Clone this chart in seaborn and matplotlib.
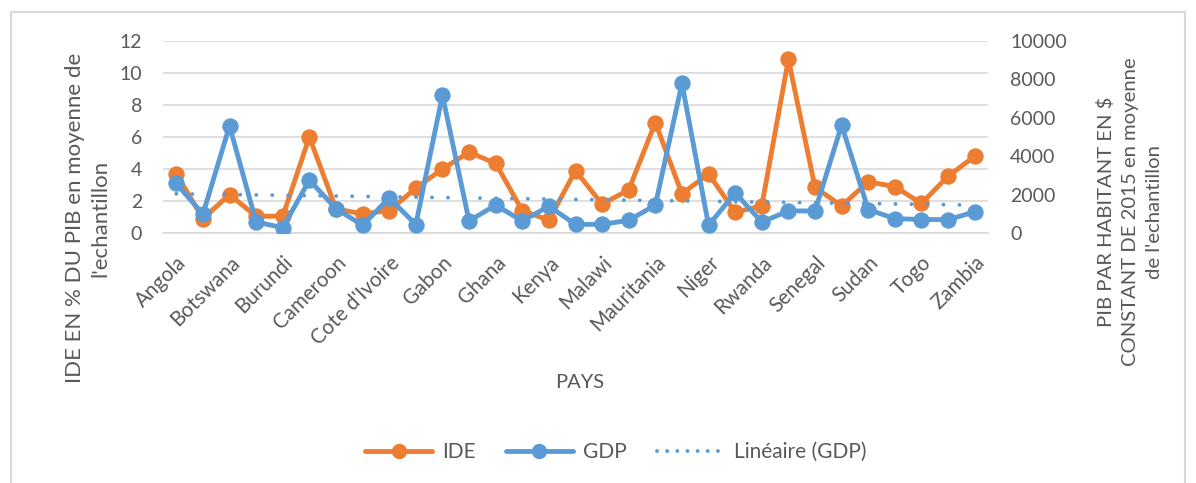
import numpy as np
import pandas as pd
import matplotlib
matplotlib.use("Agg")
import matplotlib.pyplot as plt
import seaborn as sns
from matplotlib.lines import Line2D
from matplotlib.patches import Rectangle

# Données
pays = ["Angola", "Benin", "Botswana", "Burkina Faso", "Burundi", "Cabo Verde",
        "Cameroon", "Congo", "Cote d'Ivoire", "Ethiopia", "Gabon", "Gambia",
        "Ghana", "Guinea", "Kenya", "Madagascar", "Malawi", "Mali", "Mauritania",
        "Mozambique", "Niger", "Nigeria", "Rwanda", "Sao Tome", "Senegal",
        "Sierra Leone", "Sudan", "Tanzania", "Togo", "Uganda", "Zambia"]

ide = [3.7, 0.9, 2.4, 1.05, 1.05, 6.0, 1.5, 1.2, 1.4, 2.8,
       4.0, 5.05, 4.35, 1.4, 0.8, 3.9, 1.8, 2.7, 6.9, 2.45,
       3.7, 1.3, 1.7, 10.85, 2.85, 1.7, 3.2, 2.9, 1.85, 3.55, 4.8]

gdp = [2580, 980, 5580, 570, 280, 2750, 1270, 400, 1830, 440,
       7180, 630, 1450, 630, 1390, 450, 450, 660, 1450, 7790,
       400, 2090, 570, 1150, 1150, 5620, 1220, 750, 700, 700, 1100]

orange = "#ED7D31"
bleu = "#5B9BD5"
gris = "#595959"
pointille = (0, (0.01, 4.1))

df = pd.DataFrame({"pays": pays, "x": np.arange(len(pays)), "IDE": ide, "GDP": gdp})

# Tendance linéaire du PIB (comme la courbe de tendance Excel)
coef = np.polyfit(df["x"], df["GDP"], 1)
df["trend"] = np.polyval(coef, df["x"])

sns.set_theme(style="white")
plt.rcParams["font.family"] = ["Lato", "DejaVu Sans"]

fig = plt.figure(figsize=(11.96, 4.83), dpi=100)
ax = fig.add_axes([163 / 1196, 1 - 233 / 483, 825 / 1196, 192 / 483])
ax2 = ax.twinx()

# Grille horizontale
ax.set_ylim(0, 12)
ax.set_yticks(range(0, 13, 2))
ax.grid(axis="y", color="#D9D9D9", linewidth=1.2)
ax.set_axisbelow(True)

sns.lineplot(data=df, x="x", y="IDE", ax=ax, color=orange, linewidth=3.5,
             marker="o", markersize=11, markeredgecolor=orange, zorder=3)

ax2.set_ylim(0, 10000)
ax2.set_yticks(range(0, 10001, 2000))
sns.lineplot(data=df, x="x", y="trend", ax=ax2, color=bleu, linewidth=2.8,
             linestyle=pointille, dash_capstyle="round", zorder=2)
sns.lineplot(data=df, x="x", y="GDP", ax=ax2, color=bleu, linewidth=3.5,
             marker="o", markersize=11, markeredgecolor=bleu, zorder=3)

ax.set_xlim(-0.5, len(pays) - 0.5)
ax.set_xticks(df["x"][::2])
ax.set_xticklabels(df["pays"][::2], rotation=45, ha="right", va="top",
                   rotation_mode="anchor", color=gris)

for a in (ax, ax2):
    for s in a.spines.values():
        s.set_visible(False)
    a.set_xlabel("")
    a.set_ylabel("")
    a.tick_params(length=0, labelsize=14, colors=gris)
ax.spines["bottom"].set_visible(True)
ax.spines["bottom"].set_color("#D9D9D9")
ax.tick_params(axis="y", pad=15)
ax.tick_params(axis="x", pad=14, labelsize=14.8)
ax2.tick_params(axis="y", pad=16)

# Titres des axes
fig.text(88 / 1196, 1 - 218 / 483, "IDE EN % DU PIB en moyenne de\nl'echantillon",
         rotation=90, ha="center", va="center", multialignment="center",
         fontsize=16, color=gris, linespacing=1.35)
fig.text(1130 / 1196, 1 - 212 / 483,
         "PIB PAR HABITANT EN $\nCONSTANT DE 2015 en moyenne\nde l'echantillon",
         rotation=90, ha="center", va="center", multialignment="center",
         fontsize=14.6, color=gris, linespacing=1.5)
fig.text(580 / 1196, 1 - 383 / 483, "PAYS", ha="center", va="center",
         fontsize=14.5, color=gris)

# Légende
handles = [
    Line2D([], [], color=orange, linewidth=3.5, marker="o", markersize=10),
    Line2D([], [], color=bleu, linewidth=3.5, marker="o", markersize=10),
    Line2D([], [], color=bleu, linewidth=2.8, linestyle=(0, (0.01, 2.6)),
           dash_capstyle="round"),
]
fig.legend(handles, ["IDE", "GDP", "Linéaire (GDP)"], loc="center",
           bbox_to_anchor=(616 / 1196, 1 - 452 / 483), ncol=3, frameon=False,
           fontsize=15, handlelength=3.2, handletextpad=0.5,
           columnspacing=1.45, labelcolor=gris)

# Cadre de la zone du graphique
fig.patches.append(Rectangle((11 / 1196, -0.05), (1185 - 11) / 1196, 1.05 - 12 / 483,
                             transform=fig.transFigure, fill=False,
                             edgecolor="#D9D9D9", linewidth=1.5))

fig.savefig("out.png", dpi=100)
